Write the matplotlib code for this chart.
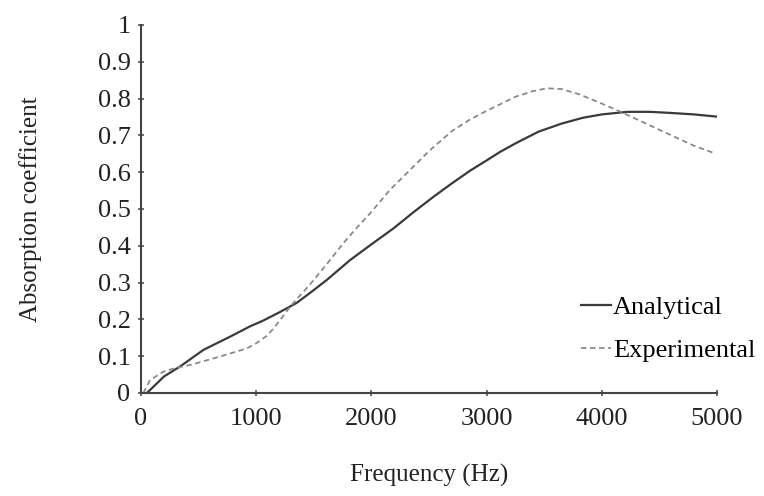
import numpy as np
import matplotlib
matplotlib.use("Agg")
import matplotlib.pyplot as plt
from matplotlib.ticker import FuncFormatter

# values
freq_an = [50, 78, 200, 339, 541, 773, 946, 1062, 1200, 1352, 1480, 1612, 1814,
           2000, 2190, 2360, 2538, 2700, 2856, 3000, 3116, 3261, 3450, 3650,
           3837, 4000, 4219, 4418, 4600, 4800, 5000]
abs_an = [0.0, 0.008, 0.045, 0.072, 0.117, 0.153, 0.181, 0.197, 0.219, 0.245,
          0.275, 0.307, 0.361, 0.404, 0.447, 0.490, 0.533, 0.570, 0.604, 0.632,
          0.655, 0.680, 0.710, 0.732, 0.748, 0.757, 0.764, 0.764, 0.761, 0.757, 0.751]

freq_ex = [20, 78, 194, 300, 425, 686, 917, 1000, 1091, 1150, 1207, 1293, 1380,
           1467, 1612, 1756, 1870, 1988, 2161, 2335, 2509, 2700, 2850, 2970,
           3120, 3250, 3400, 3522, 3650, 3800, 3950, 4129, 4350, 4563, 4800, 4965]
abs_ex = [0.0, 0.035, 0.058, 0.068, 0.076, 0.099, 0.121, 0.135, 0.155, 0.175,
          0.198, 0.234, 0.265, 0.295, 0.350, 0.407, 0.448, 0.488, 0.552, 0.606,
          0.660, 0.712, 0.742, 0.762, 0.785, 0.805, 0.82, 0.828, 0.826, 0.812,
          0.793, 0.769, 0.737, 0.706, 0.672, 0.653]

plt.rcParams['font.family'] = ['Liberation Serif', 'DejaVu Serif']

fig = plt.figure(figsize=(7.64, 4.96), dpi=100)
ax = fig.add_axes([0.1846, 0.2077, 0.7539, 0.7419])

ax.plot(freq_an, abs_an, '-', color='#3a3a3a', lw=1.6, label='Analytical')
ax.plot(freq_ex, abs_ex, '--', color='#8a8a8a', lw=1.3, dashes=(3, 2), label='Experimental')

ax.set_xlim(0, 5000)
ax.set_ylim(0, 1)
ax.set_xticks([0, 1000, 2000, 3000, 4000, 5000])
ax.set_yticks(np.arange(0, 1.01, 0.1))
ax.yaxis.set_major_formatter(FuncFormatter(lambda v, p: '%g' % round(v, 1)))

for s in ['top', 'right']:
    ax.spines[s].set_visible(False)
for s in ['left', 'bottom']:
    ax.spines[s].set_color('#444444')
    ax.spines[s].set_linewidth(1.5)

ax.tick_params(direction='inout', length=5, width=1.2, color='#555555',
               labelsize=19, labelcolor='#222222')
ax.tick_params(axis='x', pad=8)
ax.tick_params(axis='y', pad=5)

ax.set_xlabel('Frequency (Hz)', fontsize=18, color='#222222', labelpad=25)
ax.set_ylabel('Absorption coefficient', fontsize=18, color='#222222', labelpad=40)

fig.legend(loc='upper right', bbox_to_anchor=(1.02, 0.452), frameon=False,
           fontsize=19, handlelength=1.1, handletextpad=0.1, labelspacing=0.75)

fig.savefig('out.png', dpi=100)
